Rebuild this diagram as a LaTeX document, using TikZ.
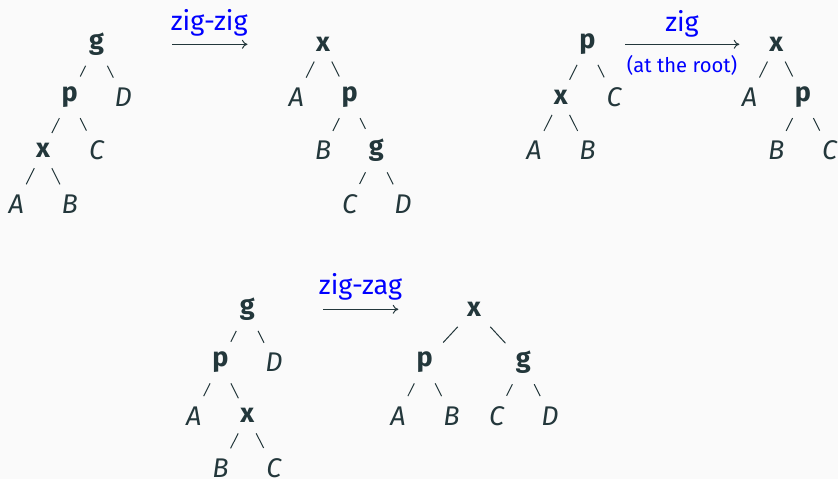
\documentclass[tikz,border=0pt]{standalone}
\usepackage{fontspec}
\setmainfont{Fira Sans}
\usetikzlibrary{arrows.meta}
\definecolor{fg}{HTML}{23373B}
\definecolor{bg}{HTML}{FAFAFA}
\definecolor{lblblue}{HTML}{0000FF}
\begin{document}
\begin{tikzpicture}[x=0.5pt,y=-0.5pt,
  nd/.style={inner sep=5pt, text=fg, font=\fontsize{13.5}{16}\selectfont\bfseries},
  lf/.style={inner sep=5pt, text=fg, font=\fontsize{13.5}{16}\selectfont\itshape},
  edge/.style={draw=fg, line width=0.5pt},
  trans/.style={draw=fg, line width=0.5pt, -{To[length=2.8pt,width=4.5pt]}},
  lbl/.style={inner sep=0pt, text=lblblue, font=\fontsize{13.5}{16}\selectfont},
  sublbl/.style={inner sep=0pt, text=lblblue, font=\fontsize{10.1}{12}\selectfont},
]
\fill[bg] (0,0) rectangle (838,479);
\useasboundingbox (0,0) rectangle (838,479);

% tree 1
\node[nd] (ag) at (96.5,44) {g};
\node[nd] (ap) at (69.8,97.3) {p};
\node[lf] (aD) at (123.2,97.3) {D};
\node[nd] (ax) at (43.1,150.6) {x};
\node[lf] (aC) at (96.5,150.6) {C};
\node[lf] (aA) at (16.4,204) {A};
\node[lf] (aB) at (69.8,204) {B};
\draw[edge] (ag) -- (ap); \draw[edge] (ag) -- (aD);
\draw[edge] (ap) -- (ax); \draw[edge] (ap) -- (aC);
\draw[edge] (ax) -- (aA); \draw[edge] (ax) -- (aB);

% arrow zig-zig
\coordinate (zz1) at (172,44.3);
\coordinate (zz2) at (247.5,44.3);
\draw[trans] (zz1) -- (zz2);
\node[lbl] (zzl) at (209.2,23.3) {zig-zig};

% tree 2
\node[nd] (bx) at (323,44) {x};
\node[lf] (bA) at (296.3,97.3) {A};
\node[nd] (bp) at (349.7,97.3) {p};
\node[lf] (bB) at (323,150.6) {B};
\node[nd] (bg) at (376.3,150.6) {g};
\node[lf] (bC) at (349.7,204) {C};
\node[lf] (bD) at (403,204) {D};
\draw[edge] (bx) -- (bA); \draw[edge] (bx) -- (bp);
\draw[edge] (bp) -- (bB); \draw[edge] (bp) -- (bg);
\draw[edge] (bg) -- (bC); \draw[edge] (bg) -- (bD);

% tree 3
\node[nd] (cp) at (587.5,44) {p};
\node[nd] (cx) at (560.8,97.3) {x};
\node[lf] (cC) at (614.2,97.3) {C};
\node[lf] (cA) at (534.1,150.6) {A};
\node[lf] (cB) at (587.5,150.6) {B};
\draw[edge] (cp) -- (cx); \draw[edge] (cp) -- (cC);
\draw[edge] (cx) -- (cA); \draw[edge] (cx) -- (cB);

% arrow zig
\coordinate (z1) at (625,44.3);
\coordinate (z2) at (739.3,44.3);
\draw[trans] (z1) -- (z2);
\node[lbl] (zl) at (682,23.8) {zig};
\node[sublbl] (zr) at (682,65) {(at the root)};

% tree 4
\node[nd] (dx) at (776.3,44) {x};
\node[lf] (dA) at (749.6,97.3) {A};
\node[nd] (dp) at (803,97.3) {p};
\node[lf] (dB) at (776.3,150.6) {B};
\node[lf] (dC) at (829.7,150.6) {C};
\draw[edge] (dx) -- (dA); \draw[edge] (dx) -- (dp);
\draw[edge] (dp) -- (dB); \draw[edge] (dp) -- (dC);

% tree 5
\node[nd] (eg) at (247.2,309.2) {g};
\node[nd] (ep) at (220.5,362.5) {p};
\node[lf] (eD) at (273.9,362.5) {D};
\node[lf] (eA) at (193.8,415.8) {A};
\node[nd] (ex) at (247.2,415.8) {x};
\node[lf] (eB) at (220.5,468) {B};
\node[lf] (eC) at (273.9,468) {C};
\draw[edge] (eg) -- (ep); \draw[edge] (eg) -- (eD);
\draw[edge] (ep) -- (eA); \draw[edge] (ep) -- (ex);
\draw[edge] (ex) -- (eB); \draw[edge] (ex) -- (eC);

% arrow zig-zag
\coordinate (zg1) at (323.3,309.3);
\coordinate (zg2) at (398.3,309.3);
\draw[trans] (zg1) -- (zg2);
\node[lbl] (zgl) at (360.5,286.7) {zig-zag};

% tree 6
\node[nd] (fx) at (474,309.2) {x};
\node[nd] (fp) at (424.7,362.5) {p};
\node[nd] (fg) at (523.3,362.5) {g};
\node[lf] (fA) at (398,415.8) {A};
\node[lf] (fB) at (451.4,415.8) {B};
\node[lf] (fC) at (496.6,415.8) {C};
\node[lf] (fD) at (550,415.8) {D};
\draw[edge] (fx) -- (fp); \draw[edge] (fx) -- (fg);
\draw[edge] (fp) -- (fA); \draw[edge] (fp) -- (fB);
\draw[edge] (fg) -- (fC); \draw[edge] (fg) -- (fD);
\end{tikzpicture}
\end{document}
